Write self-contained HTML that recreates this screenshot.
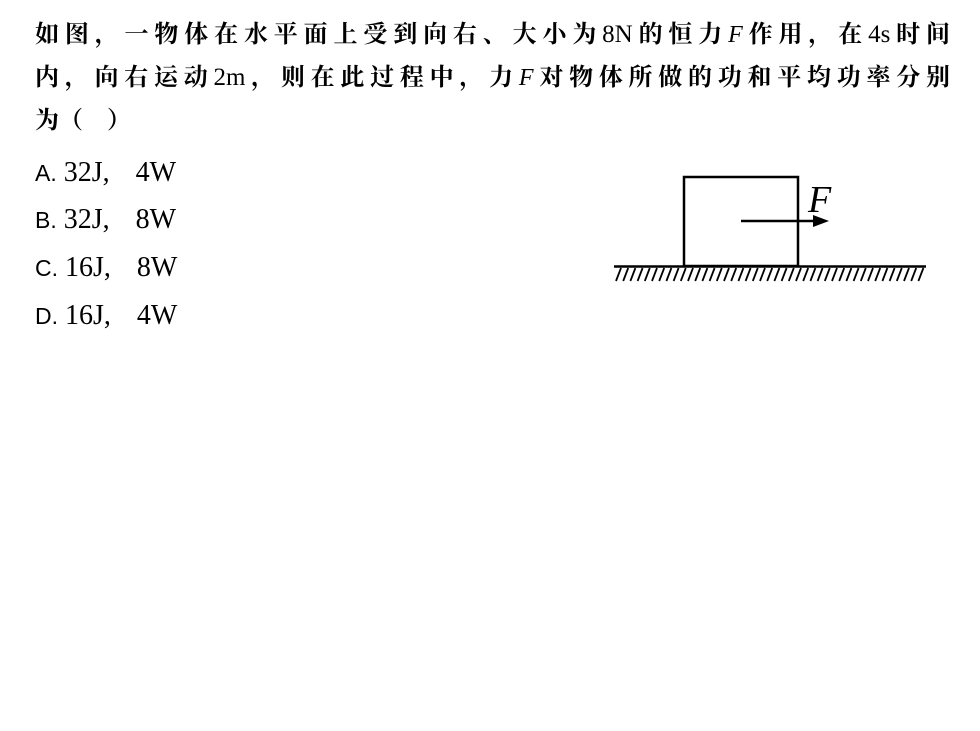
<!DOCTYPE html>
<html><head><meta charset="utf-8"><style>
body{margin:0;width:980px;height:731px;background:#fff;position:relative;font-family:"Liberation Serif","Noto Serif CJK SC",serif;color:#000}
.l{position:absolute;left:35px;width:915px;font-size:24px;font-weight:bold;white-space:nowrap;text-align:justify;text-align-last:justify}
.l b{font-weight:normal;font-size:25px}
.o{position:absolute;left:35px;font-size:28px;white-space:nowrap}
.o span{font-family:"Liberation Sans",sans-serif;font-size:23px;margin-right:0px}
.o i{font-style:normal;margin-right:26px}
</style></head><body>
<div class="l" style="top:14px">如图，一物体在水平面上受到向右、大小为<b>8N</b>的恒力<i style="font-weight:normal">F</i>作用，在<b>4s</b>时间</div>
<div class="l" style="top:57px">内，向右运动<b>2m</b>，则在此过程中，力<i style="font-weight:normal">F</i>对物体所做的功和平均功率分别</div>
<div class="l" style="top:100px;text-align-last:left;width:auto">为（&nbsp;&nbsp;&nbsp;&nbsp;）</div>
<div class="o" style="top:157px"><span>A.</span> 32J<i>,</i>4W</div>
<div class="o" style="top:204px"><span>B.</span> 32J<i>,</i>8W</div>
<div class="o" style="top:252px"><span>C.</span> 16J<i>,</i>8W</div>
<div class="o" style="top:300px"><span>D.</span> 16J<i>,</i>4W</div>
<svg style="position:absolute;left:0;top:0" width="980" height="731">
<rect x="684" y="177" width="114" height="89" fill="none" stroke="#000" stroke-width="2.5"/>
<line x1="614" y1="266.5" x2="926" y2="266.5" stroke="#000" stroke-width="2.5"/>
<path id="h" d="" stroke="#000" stroke-width="1.8"/>
<line x1="741" y1="221" x2="815" y2="221" stroke="#000" stroke-width="2.5"/>
<polygon points="813,215 829,221 813,227" fill="#000"/>
<text x="808" y="212" font-size="38" font-style="italic" font-family="Liberation Serif,serif">F</text>
</svg>
<script>
var d="";for(var x=618;x<=924;x+=7.2){d+="M"+(x+3)+" 268L"+(x-2)+" 281";}
document.getElementById("h").setAttribute("d",d);
</script>
</body></html>
